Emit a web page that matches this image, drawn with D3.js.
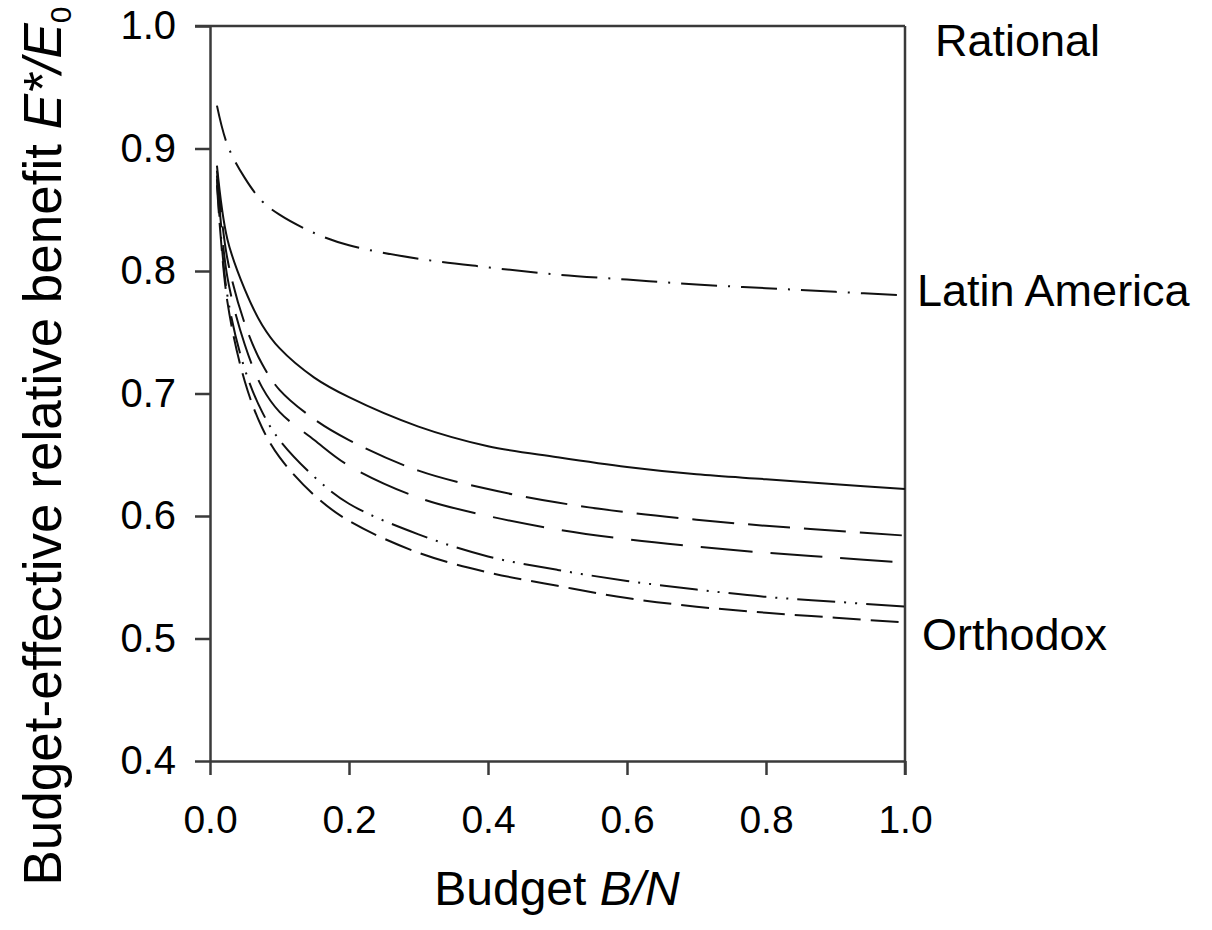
<!DOCTYPE html>
<html>
<head>
<meta charset="utf-8">
<script src="https://cdn.jsdelivr.net/npm/d3@7"></script>
<style>
  html, body { margin: 0; padding: 0; background: #fff; }
  svg { display: block; }
  text { font-family: "Liberation Sans", Arial, "Helvetica", sans-serif; fill: #000; }
</style>
</head>
<body>
<svg id="chart" width="1212" height="930"></svg>
<script>
// Budget B/N sample points
const budget = [0.01, 0.025, 0.05, 0.075, 0.1, 0.15, 0.2, 0.3, 0.4, 0.5, 0.6, 0.7, 0.8, 0.9, 1.0];

// Relative benefit E*/E0 for each model curve
const rational      = [1.0, 1.0, 1.0, 1.0, 1.0, 1.0, 1.0, 1.0, 1.0, 1.0, 1.0, 1.0, 1.0, 1.0, 1.0];
const latinAmerica  = [0.935, 0.903, 0.876, 0.857, 0.846, 0.831, 0.821, 0.810, 0.803, 0.797, 0.793, 0.789, 0.786, 0.783, 0.780];
const solidCurve    = [0.886, 0.826, 0.785, 0.756, 0.737, 0.713, 0.697, 0.673, 0.657, 0.648, 0.640, 0.634, 0.630, 0.626, 0.622];
const dashedA       = [0.882, 0.810, 0.757, 0.724, 0.703, 0.679, 0.662, 0.637, 0.622, 0.611, 0.603, 0.597, 0.592, 0.588, 0.584];
const dashedB       = [0.878, 0.795, 0.740, 0.705, 0.685, 0.662, 0.641, 0.615, 0.600, 0.589, 0.581, 0.575, 0.570, 0.566, 0.562];
const dashDotDot    = [0.875, 0.780, 0.720, 0.685, 0.662, 0.632, 0.610, 0.585, 0.567, 0.556, 0.547, 0.540, 0.534, 0.530, 0.526];
const orthodox      = [0.870, 0.775, 0.710, 0.672, 0.648, 0.617, 0.596, 0.570, 0.554, 0.543, 0.533, 0.526, 0.521, 0.517, 0.513];

const xTicks = [0.0, 0.2, 0.4, 0.6, 0.8, 1.0];
const yTicks = [0.4, 0.5, 0.6, 0.7, 0.8, 0.9, 1.0];

const seriesNames = ["Rational", "Latin America", "solid", "dashedA", "dashedB", "dashDotDot", "Orthodox"];
const seriesValues = [rational, latinAmerica, solidCurve, dashedA, dashedB, dashDotDot, orthodox];
const seriesDash = [null, "36,11,2,11", null, "42,14", "52,18", "38,9,2,9,2,9", "28,10"];

const curveLabels = ["Rational", "Latin America", "Orthodox"];

const svg = d3.select("#chart");

const x = d3.scaleLinear().domain([0, 1]).range([210, 905]);
const y = d3.scaleLinear().domain([0.4, 1.0]).range([761, 26]);

const axisColor = "#3a3a3a";

// Left axis
const yAxis = svg.append("g")
  .attr("transform", `translate(${x(0)},0)`)
  .call(d3.axisLeft(y).tickValues(yTicks).tickFormat(d3.format(".1f"))
        .tickSize(15).tickSizeOuter(0).tickPadding(19));
yAxis.selectAll("text").style("font-size", "40px").style("font-family", '"Liberation Sans", Arial, sans-serif').attr("fill", "#000");

// Bottom axis
const xAxis = svg.append("g")
  .attr("transform", `translate(0,${y(0.4)})`)
  .call(d3.axisBottom(x).tickValues(xTicks).tickFormat(d3.format(".1f"))
        .tickSize(14).tickSizeOuter(0).tickPadding(30));
xAxis.selectAll("text").style("font-size", "39px").style("font-family", '"Liberation Sans", Arial, sans-serif').attr("fill", "#000");

[yAxis, xAxis].forEach(g => {
  g.selectAll("line").attr("stroke", axisColor).attr("stroke-width", 2.5);
  g.select(".domain").attr("stroke", axisColor).attr("stroke-width", 2.5);
});

// Right border of the frame
svg.append("line")
  .attr("x1", x(1)).attr("x2", x(1))
  .attr("y1", y(1.0)).attr("y2", y(0.4) + 14)
  .attr("stroke", axisColor).attr("stroke-width", 2.5);

// Curves
const line = d3.line()
  .x((d, i) => x(budget[i]))
  .y(d => y(d))
  .curve(d3.curveCatmullRom.alpha(0.5));

svg.append("g").selectAll("path")
  .data(seriesValues.map((v, i) => ({ name: seriesNames[i], values: v, dash: seriesDash[i] })))
  .join("path")
  .attr("d", d => d.name === "Rational"
        ? d3.line()([[x(0) - 15, y(1.0)], [x(1), y(1.0)]])
        : line(d.values))
  .attr("fill", "none")
  .attr("stroke", d => d.name === "Rational" ? axisColor : "#111")
  .attr("stroke-width", d => d.name === "Rational" ? 2.5 : 2)
  .attr("stroke-dasharray", d => d.dash);

// Curve labels at the right edge
const labelPos = [
  { text: curveLabels[0], x: 935, y: 56 },
  { text: curveLabels[1], x: 917, y: 306 },
  { text: curveLabels[2], x: 922, y: 650 }
];
svg.append("g").selectAll("text")
  .data(labelPos)
  .join("text")
  .attr("x", d => d.x)
  .attr("y", d => d.y)
  .style("font-size", "45px")
  .text(d => d.text);

// Axis titles
const yTitle = svg.append("text")
  .attr("transform", "translate(61,446) rotate(-90)")
  .attr("text-anchor", "middle")
  .style("font-size", "53px");
yTitle.append("tspan").text("Budget-effective relative benefit ");
yTitle.append("tspan").style("font-style", "italic").text("E*/E");
yTitle.append("tspan").attr("dy", 10).style("font-size", "30px").text("0");

const xTitle = svg.append("text")
  .attr("x", 557).attr("y", 905)
  .attr("text-anchor", "middle")
  .style("font-size", "48px");
xTitle.append("tspan").text("Budget ");
xTitle.append("tspan").style("font-style", "italic").text("B/N");
</script>
</body>
</html>
